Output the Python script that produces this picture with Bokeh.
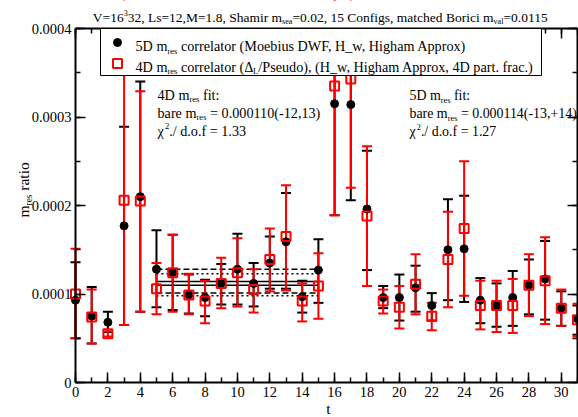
import numpy as np
from math import pi, cos, sin
from bokeh.plotting import figure
from bokeh.models import Range1d, LinearAxis, FixedTicker, Label, CustomLabelingPolicy
from bokeh.embed import file_html
from bokeh.resources import INLINE

# ---------------- data (values in units of 1e-4) ----------------
t = list(range(32))
m5_val = [0.93, 0.75, 0.68, 1.77, 2.10, 1.28, 1.24, 0.99, 0.96, 1.12, 1.28, 1.12, 1.35, 1.59, 0.97, 1.27,
          3.15, 3.14, 1.96, 0.96, 0.96, 1.07, 0.87, 1.50, 1.51, 0.93, 0.87, 0.96, 1.10, 1.17, 0.84, 0.72]
m5_lo = [0.50, 0.44, 0.57, 0.65, 0.80, 0.85, 0.82, 0.78, 0.75, 0.88, 0.88, 0.86, 1.06, 1.06, 0.79, 0.90,
         1.89, 2.06, 1.27, 0.84, 0.70, 0.80, 0.70, 0.93, 0.91, 0.67, 0.63, 0.64, 0.77, 0.71, 0.64, 0.54]
m5_hi = [1.36, 1.08, 0.80, 2.89, 3.40, 1.72, 1.67, 1.22, 1.16, 1.34, 1.68, 1.35, 1.65, 2.14, 1.15, 1.62,
         4.50, 4.30, 2.62, 1.09, 1.22, 1.32, 1.01, 2.07, 2.11, 1.18, 1.12, 1.26, 1.39, 1.60, 1.03, 0.87]
m4_val = [1.00, 0.74, 0.55, 2.06, 2.05, 1.06, 1.24, 0.99, 0.92, 1.12, 1.24, 1.05, 1.39, 1.65, 0.92, 1.09,
          3.35, 3.43, 1.88, 0.92, 0.85, 1.11, 0.75, 1.39, 1.74, 0.87, 0.87, 0.87, 1.10, 1.15, 0.84, 0.71]
m4_lo = [0.50, 0.44, 0.52, 0.65, 0.80, 0.77, 0.80, 0.77, 0.67, 0.84, 0.86, 0.79, 1.03, 1.04, 0.69, 0.72,
         1.89, 2.20, 1.09, 0.78, 0.61, 0.77, 0.59, 0.85, 0.98, 0.60, 0.57, 0.56, 0.75, 0.66, 0.64, 0.52]
m4_hi = [1.51, 1.05, 0.58, 4.60, 3.29, 1.35, 1.67, 1.23, 1.15, 1.41, 1.63, 1.28, 1.74, 2.23, 1.12, 1.46,
         4.60, 4.60, 2.67, 1.05, 1.09, 1.45, 0.90, 1.93, 2.50, 1.15, 1.15, 1.17, 1.45, 1.64, 1.05, 0.89]

fit_t = [5, 15]
fit4 = [1.10, 0.98, 1.23]   # central, lower, upper (4D fit)
fit5 = [1.14, 1.01, 1.28]   # central, lower, upper (5D fit)

UNIT = 1e-4
x_ticks = list(range(0, 31, 2))
x_minor = list(range(0, 32))
x_tick_labels = [str(v) for v in x_ticks]
y_ticks = [0.0, 0.0001, 0.0002, 0.0003, 0.0004]
y_minor = [0.0, 0.00005, 0.0001, 0.00015, 0.0002, 0.00025, 0.0003, 0.00035, 0.0004]
y_tick_labels = ["0", "0.0001", "0.0002", "0.0003", "0.0004"]

X_MAX = 31
Y_MAX = 0.0004

# ---------------- layout (canvas pixels) ----------------
CW, CH = 578, 417
FL, FT, FB = 75, 28, 382      # pixel position of data box edges
FR = 577
FONT = "Liberation Serif"
RED = "#ff0000"

sx_per = X_MAX / (FR - FL)
sy_per = Y_MAX / (FB - FT)
X0, X1 = -FL * sx_per, (CW - FL) * sx_per
Y0, Y1 = -(CH - FB) * sy_per, FB * sy_per

p = figure(width=CW, height=CH, output_backend="svg", toolbar_location=None,
           x_range=Range1d(X0, X1), y_range=Range1d(Y0, Y1),
           min_border=0, min_border_left=0, min_border_right=0, min_border_top=0, min_border_bottom=0,
           x_axis_location=None, y_axis_location=None)
p.xgrid.visible = False
p.ygrid.visible = False
p.outline_line_color = None
p.background_fill_color = "white"
p.border_fill_color = "white"

no_labels = CustomLabelingPolicy(code="""
const ids = [...indices]
for (const i of ids) indices.unset(i)
""")


def make_axis(ticks, minor, loc, bounds, labels=None):
    ax = LinearAxis(ticker=FixedTicker(ticks=ticks, minor_ticks=minor), fixed_location=loc, bounds=bounds)
    ax.axis_line_width = 2
    ax.axis_line_color = "black"
    ax.major_tick_in = 10
    ax.major_tick_out = 0
    ax.minor_tick_in = 5
    ax.minor_tick_out = 0
    ax.major_tick_line_width = 1.5
    ax.minor_tick_line_width = 1.5
    ax.major_tick_line_color = "black"
    ax.minor_tick_line_color = "black"
    if labels is not None:
        ax.major_label_overrides = {v: s for v, s in zip(ticks, labels)}
        ax.major_label_text_font = FONT
        ax.major_label_text_font_size = "14.5px"
        ax.major_label_text_color = "black"
        ax.major_label_standoff = 4
    else:
        ax.major_label_policy = no_labels
    return ax


p.add_layout(make_axis(x_ticks, x_minor, 0.0, (0, X_MAX), x_tick_labels), "below")
p.add_layout(make_axis(y_ticks, y_minor, 0.0, (0, Y_MAX), y_tick_labels), "left")
p.add_layout(make_axis(x_ticks, x_minor, Y_MAX, (0, X_MAX)), "above")
p.add_layout(make_axis(y_ticks, y_minor, X_MAX, (0, Y_MAX)), "right")

u = lambda a: (np.array(a) * UNIT).tolist()

# ---------------- fit bands ----------------
for vals, dash in [(fit4, "2 3"), (fit5, "6 3")]:
    p.line(fit_t, u([vals[0], vals[0]]), line_color="black", line_width=1.5)
    p.line(fit_t, u([vals[1], vals[1]]), line_color="black", line_width=1.5, line_dash=dash)
    p.line(fit_t, u([vals[2], vals[2]]), line_color="black", line_width=1.5, line_dash=dash)

# ---------------- error bars ----------------
for lo, hi, col in [(m5_lo, m5_hi, "black"), (m4_lo, m4_hi, RED)]:
    p.segment(x0=t, y0=u(lo), x1=t, y1=u(hi), line_color=col, line_width=2)
    p.scatter(t, u(lo), marker="dash", size=10, line_color=col, line_width=2)
    p.scatter(t, u(hi), marker="dash", size=10, line_color=col, line_width=2)

p.scatter(t, u(m5_val), marker="circle", size=8, fill_color="black", line_color="black")
p.scatter(t, u(m4_val), marker="square", size=9, fill_alpha=0, line_color=RED, line_width=2)

# white masks outside the data box (stand in for frame clipping)
p.quad(left=[X0], right=[X1], bottom=[Y_MAX], top=[Y1], fill_color="white", line_color=None)
p.quad(left=[X_MAX], right=[X1], bottom=[Y0], top=[Y1], fill_color="white", line_color=None)


def px2x(px):
    return (px - FL) * sx_per


def py2y(py):
    return (FB - py) * sy_per


# ---------------- legend ----------------
box = p.quad(left=[px2x(100)], right=[px2x(541)], top=[py2y(28)], bottom=[py2y(75)],
             fill_color="white", line_color="black", line_width=1)
box.level = "annotation"
lc = p.scatter([px2x(117)], [py2y(42)], marker="circle", size=8, fill_color="black", line_color="black")
lc.level = "annotation"
ls = p.scatter([px2x(117)], [py2y(63)], marker="square", size=9, fill_alpha=0, line_color=RED, line_width=2)
ls.level = "annotation"

# ---------------- rich text helper ----------------
W = {' ': 250, '!': 333, '(': 333, ')': 333, '+': 564, ',': 250, '-': 333, '.': 250, '/': 278,
     ':': 278, '=': 564, '_': 500, 'A': 722, 'B': 667, 'C': 667, 'D': 722, 'F': 556, 'H': 722,
     'L': 611, 'M': 889, 'P': 556, 'S': 556, 'V': 722, 'W': 944, 'a': 444, 'b': 500, 'c': 444,
     'd': 500, 'e': 444, 'f': 333, 'g': 500, 'h': 500, 'i': 278, 'l': 278, 'm': 778, 'n': 500,
     'o': 500, 'p': 500, 'r': 333, 's': 389, 't': 278, 'u': 500, 'v': 500, 'w': 722, 'x': 500,
     'Δ': 612, 'χ': 520}
SC = 0.6


def tw(s, fs):
    return sum(W.get(c, 500) for c in s) * fs / 1000.0


def rich(parts, px, py, fs, angle=0.0, align="left"):
    sizes = [fs if k == "n" else fs * SC for _, k in parts]
    widths = [tw(s, f) for (s, _), f in zip(parts, sizes)]
    total = sum(widths)
    adv = 0.0 if align == "left" else (-total / 2 if align == "center" else -total)
    sx0, sy0 = px, CH - py
    ca, sa = cos(angle), sin(angle)
    for (s, k), f, w in zip(parts, sizes, widths):
        lead = len(s) - len(s.lstrip(' '))
        a = adv + lead * 250 * f / 1000.0
        shift = 0.0 if k == "n" else (-0.33 * fs if k == "sub" else 0.33 * fs)
        x = sx0 + a * ca - shift * sa
        y = sy0 + a * sa + shift * ca
        txt = s.strip(' ')
        if txt:
            p.add_layout(Label(x=x, y=y, x_units="screen", y_units="screen", text=txt, angle=angle,
                               text_font=FONT, text_font_size=f"{f:.1f}px", text_color="black",
                               text_baseline="alphabetic", text_align="left", level="overlay"))
        adv += w


# title
rich([("V=16", "n"), ("3", "sup"), ("32, Ls=12,M=1.8, Shamir m", "n"), ("sea", "sub"),
      ("=0.02, 15 Configs, matched Borici m", "n"), ("val", "sub"), ("=0.0115", "n")],
     320, 16.5, 13.5, align="center")
# legend texts
rich([("5D m", "n"), ("res", "sub"), (" correlator (Moebius DWF, H_w, Higham Approx)", "n")], 135, 45.5, 14.2)
rich([("4D m", "n"), ("res", "sub"), (" correlator (Δ", "n"), ("L", "sub"),
      ("/Pseudo), (H_w, Higham Approx, 4D part. frac.)", "n")], 135, 66, 14.2)
# fit annotations
rich([("4D m", "n"), ("res", "sub"), (" fit:", "n")], 157, 94, 14.2)
rich([("bare m", "n"), ("res", "sub"), (" = 0.000110(-12,13)", "n")], 157, 112, 14.2)
rich([("χ", "n"), ("2", "sup"), ("./ d.o.f = 1.33", "n")], 157, 130, 14.2)
rich([("5D m", "n"), ("res", "sub"), (" fit:", "n")], 409, 95, 13.9)
rich([("bare m", "n"), ("res", "sub"), (" = 0.000114(-13,+14)", "n")], 409, 113, 13.9)
rich([("χ", "n"), ("2", "sup"), ("./ d.o.f = 1.27", "n")], 409, 131, 13.9)
# axis labels
rich([("m", "n"), ("res", "sub"), (" ratio", "n")], 23, 217, 15.5, angle=pi / 2)
rich([("t", "n")], 328, 408, 15.5, align="center")

open("out.html", "w").write(file_html(p, INLINE))
